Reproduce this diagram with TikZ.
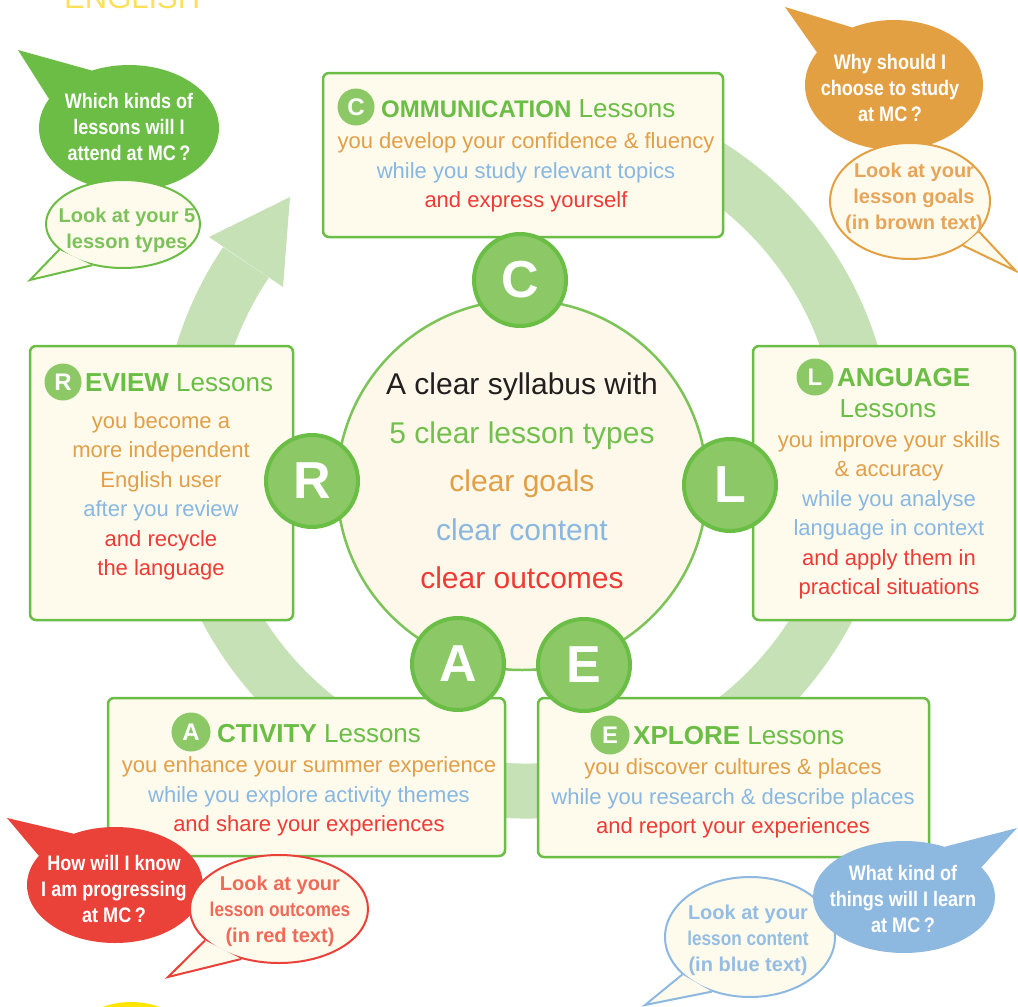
\documentclass[tikz,border=0pt]{standalone}
\usepackage{fontspec}
\setmainfont{Liberation Sans}
\newfontfamily\narrowsans[FakeStretch=0.86]{Liberation Sans}
\usetikzlibrary{shapes.geometric}

\definecolor{lessongreen}{HTML}{6ABD45}
\definecolor{badgegreen}{HTML}{8CC966}
\definecolor{bandgreen}{HTML}{C5E1B5}
\definecolor{cream}{HTML}{FEFAEC}
\definecolor{hubcream}{HTML}{FDF8E9}
\definecolor{hubgreen}{HTML}{7CC35A}
\definecolor{ink}{HTML}{231F20}
\definecolor{typegreen}{HTML}{72BF4E}
\definecolor{goalorange}{HTML}{E19F48}
\definecolor{contentblue}{HTML}{88B7E1}
\definecolor{outcomered}{HTML}{EE3B36}
\definecolor{titleyellow}{HTML}{FBE05C}
\definecolor{blobyellow}{HTML}{FFE500}
\definecolor{greenfill}{HTML}{6BBD46}
\definecolor{orangefill}{HTML}{E3A043}
\definecolor{redfill}{HTML}{EA4139}
\definecolor{bluefill}{HTML}{8DB8E0}
\definecolor{greenreply}{HTML}{7DC15B}
\definecolor{orangereply}{HTML}{E6A55A}
\definecolor{redreply}{HTML}{EF6A58}
\definecolor{bluereply}{HTML}{94BDE4}

\tikzset{
  band/.style={draw=bandgreen, line width=55pt},
  hub/.style={circle, draw=hubgreen, line width=2.5pt, fill=hubcream, minimum size=370pt, inner sep=0pt},
  hubtext/.style={align=center, inner sep=0pt, font=\fontsize{30}{48.5}\selectfont},
  lessonbox/.style={rectangle, draw=lessongreen, line width=2.5pt, fill=cream, rounded corners=6pt, inner sep=0pt},
  lessontext/.style={align=center, inner sep=0pt, font=\fontsize{22}{29.5}\selectfont},
  header/.style={anchor=west, inner sep=0pt, text=lessongreen, font=\fontsize{26}{26}\selectfont},
  smallbadge/.style={circle, fill=badgegreen, minimum size=37pt, inner sep=0pt, text=white, font=\fontsize{24}{24}\selectfont\bfseries},
  bigbadge/.style={circle, draw=lessongreen, line width=4pt, fill=badgegreen, minimum size=92pt, inner sep=0pt, text=white, font=\fontsize{52}{52}\selectfont\bfseries},
  ask/.style={ellipse, inner sep=0pt},
  asktext/.style={align=center, inner sep=0pt, text=white, font=\narrowsans\fontsize{21}{26}\selectfont\bfseries},
  reply/.style={ellipse, fill=cream, line width=2pt, inner sep=0pt},
  replytext/.style={align=center, inner sep=0pt, font=\fontsize{20}{26}\selectfont\bfseries},
}

\begin{document}
\begin{tikzpicture}[x=1pt,y=-1pt]
  \useasboundingbox (0,0) rectangle (1018,1007);
  \clip (0,0) rectangle (1018,1007);

  % --- title and yellow blob (cut by the frame) ---
  \node[anchor=base west, inner sep=0pt, text=titleyellow, font=\fontsize{31}{31}\selectfont] (title) at (64,8) {ENGLISH};
  \fill[blobyellow] (131,1086) circle (84);

  % --- cycle arrow ---
  \draw[band] (527,452) ++(-60:339) arc[start angle=-60, end angle=214, radius=339];
  \fill[bandgreen] (209,237) -- (290,197) -- (283,287) -- cycle;   % head

  % --- hub ---
  \node[hub] (hub) at (522,485) {};
  \node[hubtext] (syllabus) at (522,481) {\textcolor{ink}{A clear syllabus with}\\
    \textcolor{typegreen}{5 clear lesson types}\\
    \textcolor{goalorange}{clear goals}\\
    \textcolor{contentblue}{clear content}\\
    \textcolor{outcomered}{clear outcomes}};

  % --- communication ---
  \node[lessonbox, minimum width=400pt, minimum height=164pt] (cbox) at (523,155) {};
  \node[smallbadge] (cmini) at (356,107) {C};
  \node[header] (chead) at (381,109) {{\fontsize{24}{24}\selectfont\bfseries OMMUNICATION} Lessons};
  \node[lessontext] (ctext) at (526,172.5) {\textcolor{goalorange}{you develop your confidence \& fluency}\\
    \textcolor{contentblue}{while you study relevant topics}\\
    \textcolor{outcomered}{and express yourself}};

  % --- review ---
  \node[lessonbox, minimum width=263pt, minimum height=274pt] (rbox) at (161.5,483) {};
  \node[smallbadge] (rmini) at (63,382) {R};
  \node[header] (rhead) at (85,383) {\textbf{EVIEW} Lessons};
  \node[lessontext] (rtext) at (161,496.5) {\textcolor{goalorange}{you become a}\\
    \textcolor{goalorange}{more independent}\\
    \textcolor{goalorange}{English user}\\
    \textcolor{contentblue}{after you review}\\
    \textcolor{outcomered}{and recycle}\\
    \textcolor{outcomered}{the language}};

  % --- language ---
  \node[lessonbox, minimum width=262pt, minimum height=274pt] (lbox) at (884,483) {};
  \node[smallbadge] (lmini) at (815,377) {L};
  \node[header] (lhead) at (837,378) {\textbf{ANGUAGE}};
  \node[header, anchor=center] (lsub) at (888,409) {Lessons};
  \node[lessontext] (ltext) at (889,515.5) {\textcolor{goalorange}{you improve your skills}\\
    \textcolor{goalorange}{\& accuracy}\\
    \textcolor{contentblue}{while you analyse}\\
    \textcolor{contentblue}{language in context}\\
    \textcolor{outcomered}{and apply them in}\\
    \textcolor{outcomered}{practical situations}};

  % --- activity ---
  \node[lessonbox, minimum width=397pt, minimum height=158pt] (abox) at (306.5,777) {};
  \node[smallbadge, minimum size=39pt] (amini) at (191,732) {A};
  \node[header] (ahead) at (217,734) {\textbf{CTIVITY} Lessons};
  \node[lessontext] (atext) at (309,796.5) {\textcolor{goalorange}{you enhance your summer experience}\\
    \textcolor{contentblue}{while you explore activity themes}\\
    \textcolor{outcomered}{and share your experiences}};

  % --- explore ---
  \node[lessonbox, minimum width=391pt, minimum height=159pt] (ebox) at (733.5,777.5) {};
  \node[smallbadge, minimum size=39pt] (emini) at (610,735) {E};
  \node[header] (ehead) at (633,736) {\textbf{XPLORE} Lessons};
  \node[lessontext] (etext) at (733,798.5) {\textcolor{goalorange}{you discover cultures \& places}\\
    \textcolor{contentblue}{while you research \& describe places}\\
    \textcolor{outcomered}{and report your experiences}};

  % --- big badges ---
  \node[bigbadge] (cbadge) at (520,280) {C};
  \node[bigbadge] (rbadge) at (312,481) {R};
  \node[bigbadge] (lbadge) at (730,485) {L};
  \node[bigbadge] (abadge) at (458,664) {A};
  \node[bigbadge] (ebadge) at (584,665) {E};

  % --- green bubbles ---
  \node[ask, fill=greenfill, minimum width=180pt, minimum height=126pt] (askgreen) at (129,128) {};
  \fill[greenfill] (askgreen.160) -- (18,50) -- (askgreen.123) -- cycle;
  \node[asktext] (askgreentext) at (129,127) {Which kinds of\\lessons will I\\attend at MC\,?};
  \node[reply, draw=greenfill, minimum width=154pt, minimum height=88pt] (replygreen) at (123,224) {};
  \filldraw[draw=greenfill, fill=cream, line width=2pt] (replygreen.202) -- (30,280) -- (replygreen.233);
  \node[replytext, text=greenreply] (replygreentext) at (127,230) {Look at your 5\\lesson types};

  % --- orange bubbles ---
  \node[ask, fill=orangefill, minimum width=178pt, minimum height=130pt] (askorange) at (894,85) {};
  \fill[orangefill] (askorange.157) -- (785,7) -- (askorange.126) -- cycle;
  \node[asktext] (askorangetext) at (890,88) {Why should I\\choose to study\\at MC\,?};
  \node[reply, draw=orangefill, minimum width=160pt, minimum height=116pt] (replyorange) at (910,201) {};
  \filldraw[draw=orangefill, fill=cream, line width=2pt] (replyorange.336) -- (1016,271) -- (replyorange.320);
  \node[replytext, text=orangereply] (replyorangetext) at (914,198) {Look at your\\lesson goals\\(in brown text)};

  % --- red bubbles ---
  \node[ask, fill=redfill, minimum width=176pt, minimum height=116pt] (askred) at (115,885) {};
  \fill[redfill] (askred.159) -- (7,818) -- (askred.129) -- cycle;
  \node[asktext] (askredtext) at (114,889) {How will I know\\I am progressing\\at MC\,?};
  \node[reply, draw=redfill, minimum width=178pt, minimum height=108pt] (replyred) at (279,909) {};
  \filldraw[draw=redfill, fill=cream, line width=2pt] (replyred.203) -- (168,977) -- (replyred.233);
  \node[replytext, text=redreply] (replyredtext) at (280,911) {Look at your\\{\narrowsans lesson outcomes}\\(in red text)};

  % --- blue bubbles ---
  \node[reply, draw=bluefill, minimum width=170pt, minimum height=120pt] (replyblue) at (750,937) {};
  \filldraw[draw=bluefill, fill=cream, line width=2pt] (replyblue.209) -- (645,1005) -- (replyblue.235);
  \node[replytext, text=bluereply] (replybluetext) at (748,940) {Look at your\\{\narrowsans lesson content}\\(in blue text)};
  \node[ask, fill=bluefill, minimum width=182pt, minimum height=112pt] (askblue) at (904,897) {};
  \fill[bluefill] (askblue.51) -- (1017,828) -- (askblue.21) -- cycle;
  \node[asktext] (askbluetext) at (903,899) {What kind of\\things will I learn\\at MC\,?};
\end{tikzpicture}
\end{document}
